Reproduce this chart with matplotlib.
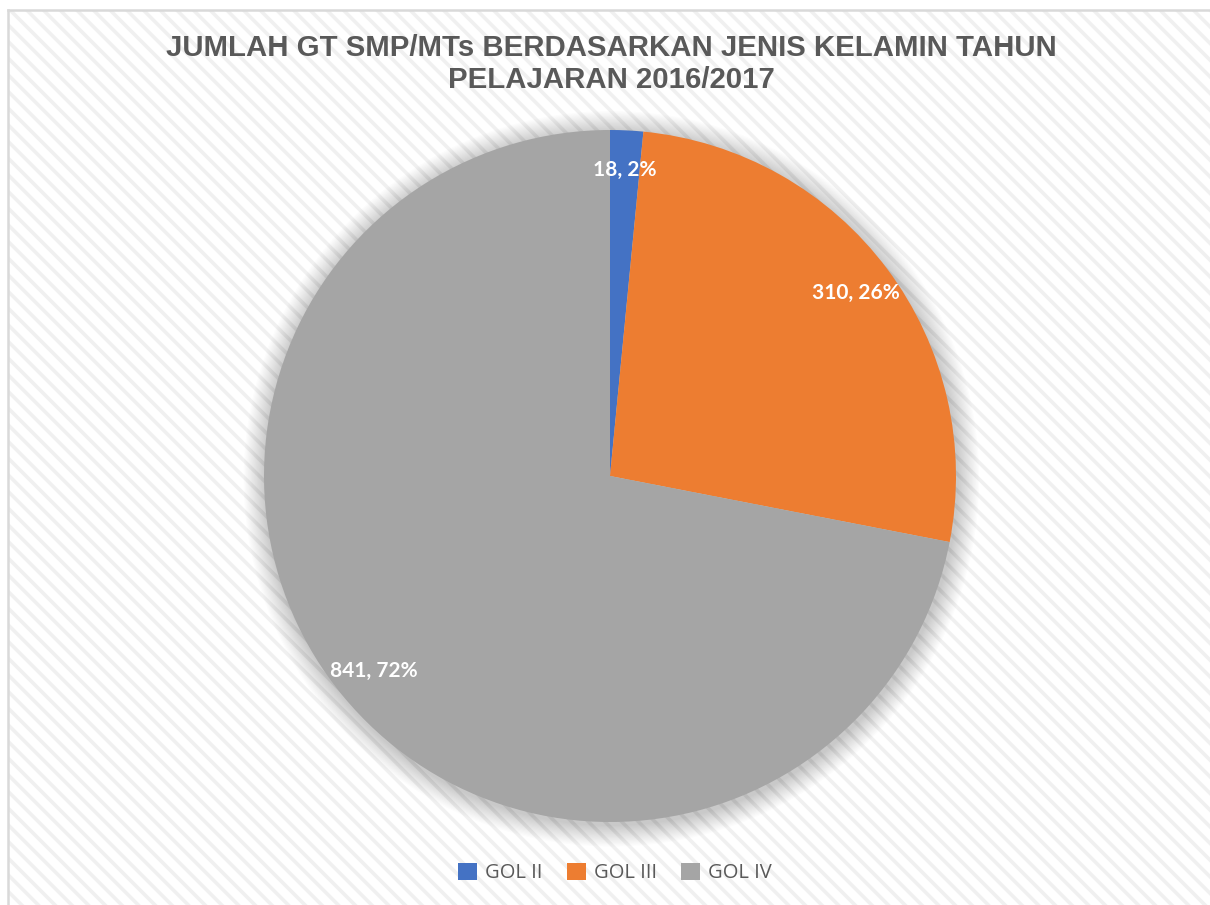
import matplotlib
matplotlib.use("Agg")
import matplotlib.pyplot as plt
from matplotlib.patches import Rectangle, Circle
from matplotlib.lines import Line2D

categories = ["GOL II", "GOL III", "GOL IV"]
values = [18, 310, 841]
pct_labels = ["2%", "26%", "72%"]
colors = ["#4472C4", "#ED7D31", "#A5A5A5"]
title = "JUMLAH GT SMP/MTs BERDASARKAN JENIS KELAMIN TAHUN\nPELAJARAN 2016/2017"

W, H = 1210, 905
plt.rcParams['hatch.linewidth'] = 2.6
fig = plt.figure(figsize=(W / 100, H / 100), dpi=100)
fig.patch.set_facecolor("white")

# striped background
bg = fig.add_axes([0, 0, 1, 1])
bg.set_xlim(0, W)
bg.set_ylim(H, 0)
bg.axis("off")
bg.add_patch(Rectangle((8, 10), W, H, facecolor="white", edgecolor="#f0f0f0",
                       hatch="\\\\", linewidth=0))
bg.add_line(Line2D([8, 8], [10, H], color="#d9d9d9", lw=1.8))
bg.add_line(Line2D([8, W], [10, 10], color="#d9d9d9", lw=1.8))

# pie axes
cx, cy, r = 610, 476, 346
m = 1.08
ax = fig.add_axes([(cx - r * m) / W, (H - cy - r * m) / H, 2 * r * m / W, 2 * r * m / H])

labels = [f"{v}, {p}" for v, p in zip(values, pct_labels)]
wedges, texts = ax.pie(values, colors=colors, startangle=90, counterclock=False,
                       radius=1.0, labels=labels, labeldistance=0.885,
                       wedgeprops=dict(linewidth=0),
                       textprops=dict(color="white", fontsize=15, fontweight="bold",
                                      family="Lato"))
ax.set_xlim(-m, m)
ax.set_ylim(-m, m)
ax.set_aspect("equal")
ax.axis("off")

# soft shadow
for i in range(18):
    rad = 1.0 + 0.0035 * (18 - i)
    ax.add_patch(Circle((0.004, -0.008), rad, facecolor="#000000", alpha=0.013,
                        edgecolor="none", zorder=0))

for t in texts:
    t.set_ha("center")
    t.set_va("center")
    t.set_zorder(5)
for w in wedges:
    w.set_zorder(2)

fig.text(611 / W, 1 - 64 / H, title, ha="center", va="center", fontsize=21.2,
         fontweight="bold", color="#595959", family="Liberation Sans", linespacing=1.2)

handles = [Rectangle((0, 0), 1, 1, facecolor=c, edgecolor="none") for c in colors]
fig.legend(handles, categories, loc="center", bbox_to_anchor=(615 / W, 1 - 873 / H),
           ncol=3, frameon=False, handlelength=0.95, handleheight=0.95,
           handletextpad=0.4, columnspacing=1.2,
           prop=dict(family="Open Sans", size=14.5),
           labelcolor="#595959")

fig.savefig("out.png", dpi=100)
